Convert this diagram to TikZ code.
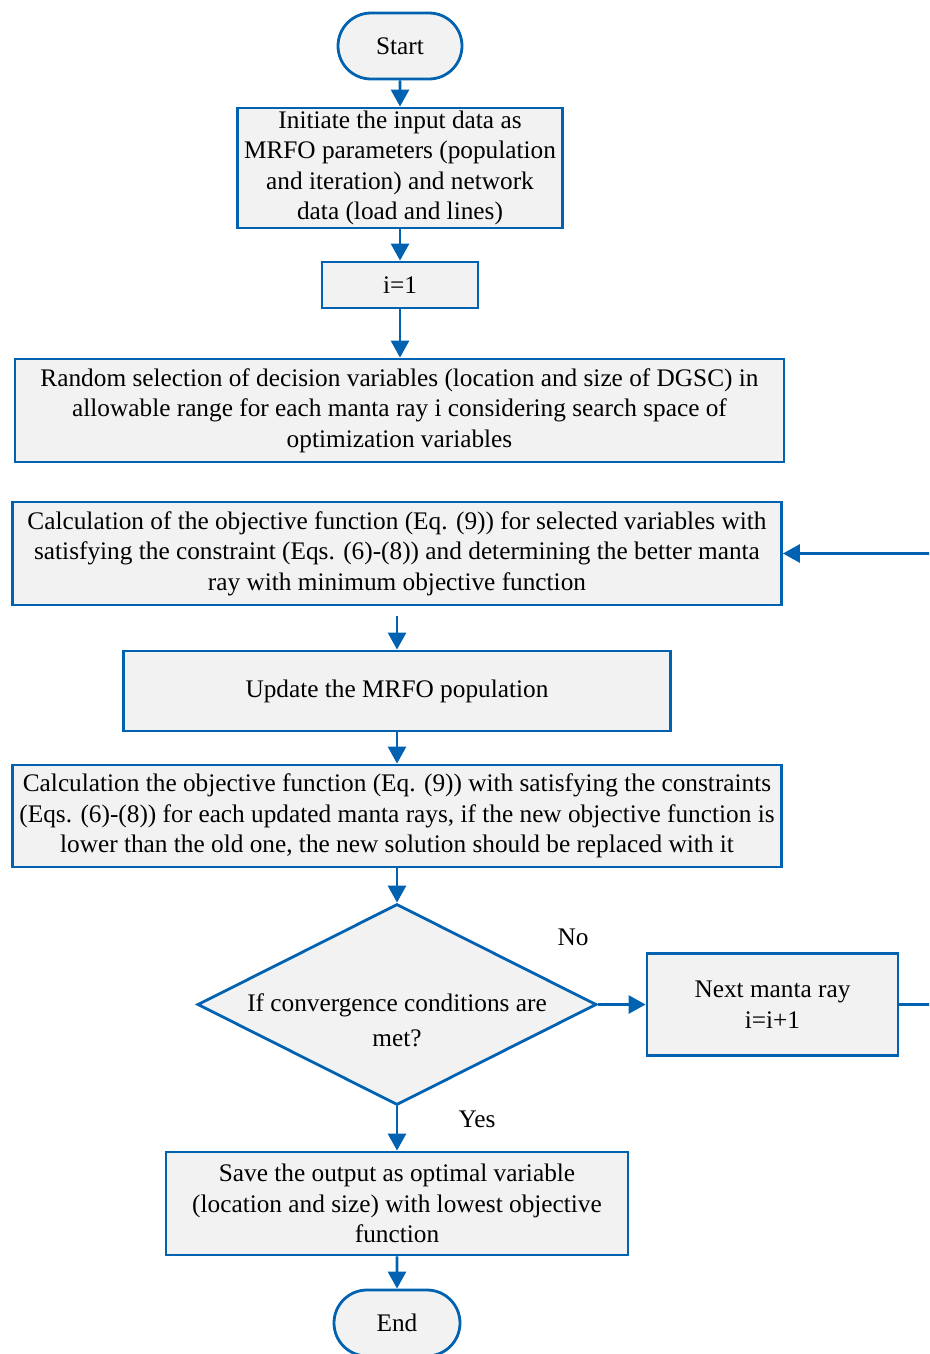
\documentclass[tikz,border=0pt]{standalone}
\usepackage{fontspec}
\setmainfont{Liberation Serif}
\usetikzlibrary{shapes.misc,shapes.geometric,arrows.meta}
\definecolor{lineblue}{RGB}{0,98,176}
\definecolor{boxfill}{RGB}{242,242,242}
\begin{document}
\begin{tikzpicture}[x=1pt,y=-1pt,
  every node/.style={font=\fontsize{25.3}{30.5}\selectfont},
  box/.style={draw=lineblue, fill=boxfill, line width=2.8pt, rectangle, inner sep=0pt, align=center},
  term/.style={draw=lineblue, fill=boxfill, line width=2.8pt, rounded rectangle, inner sep=0pt},
  dia/.style={draw=lineblue, fill=boxfill, line width=2.8pt, diamond, inner sep=0pt},
  flow/.style={draw=lineblue, line width=2.8pt, -{Triangle[length=17pt,width=18pt]}},
  lbl/.style={inner sep=0pt}]
\useasboundingbox (0,0) rectangle (929,1354);
\clip (0,0) rectangle (929,1354);

\node[term, minimum width=124pt, minimum height=66pt] (start) at (400,46) {Start};
\node[box, minimum width=325pt, minimum height=120pt] (init) at (400,168)
  {Initiate the input data as\\MRFO parameters (population\\and iteration) and network\\data (load and lines)};
\node[box, minimum width=156pt, minimum height=46pt] (i1) at (400,285) {i=1};
\node[box, minimum width=769pt, minimum height=103pt] (rand) at (399.5,410.5)
  {Random selection of decision variables (location and size of DGSC) in\\allowable range for each manta ray i considering search space of\\optimization variables};
\node[box, minimum width=769pt, minimum height=103pt] (calc1) at (397,553.5)
  {Calculation of the objective function (Eq. (9)) for selected variables with\\satisfying the constraint (Eqs. (6)-(8)) and determining the better manta\\ray with minimum objective function};
\node[box, minimum width=547pt, minimum height=80pt] (update) at (397,691) {Update the MRFO population};
\node[box, minimum width=769pt, minimum height=102pt] (calc2) at (397,816)
  {Calculation the objective function (Eq. (9)) with satisfying the constraints\\(Eqs. (6)-(8)) for each updated manta rays, if the new objective function is\\lower than the old one, the new solution should be replaced with it};
\node[dia, minimum width=399pt, minimum height=201pt] (cond) at (397,1004.5) {};
\node[lbl, align=center, font=\fontsize{25.3}{35}\selectfont] (condtext) at (397,1020) {If convergence conditions are\\met?};
\node[lbl] (no) at (573,937) {No};
\node[lbl] (yes) at (477,1119) {Yes};
\node[box, minimum width=251pt, minimum height=102pt] (next) at (772.5,1004.5) {Next manta ray\\i=i+1};
\node[box, minimum width=462pt, minimum height=103pt] (save) at (397,1203.5)
  {Save the output as optimal variable\\(location and size) with lowest objective\\function};
\node[term, minimum width=126pt, minimum height=66pt] (end) at (397,1323) {End};

\coordinate (fbR) at (945,1004.5);
\coordinate (fbT) at (945,553.5);

\draw[flow] (start) -- (init);
\draw[flow] (init) -- (i1);
\draw[flow] (i1) -- (rand.north -| i1);
\draw[flow, shorten <=10pt] (calc1) -- (update);
\draw[flow] (update) -- (calc2);
\draw[flow] (calc2) -- (cond);
\draw[flow] (cond) -- (next);
\draw[flow] (cond) -- (save);
\draw[flow] (save) -- (end);
\draw[flow] (next.east) -- (fbR) -- (fbT) -- (calc1.east);
\end{tikzpicture}
\end{document}
